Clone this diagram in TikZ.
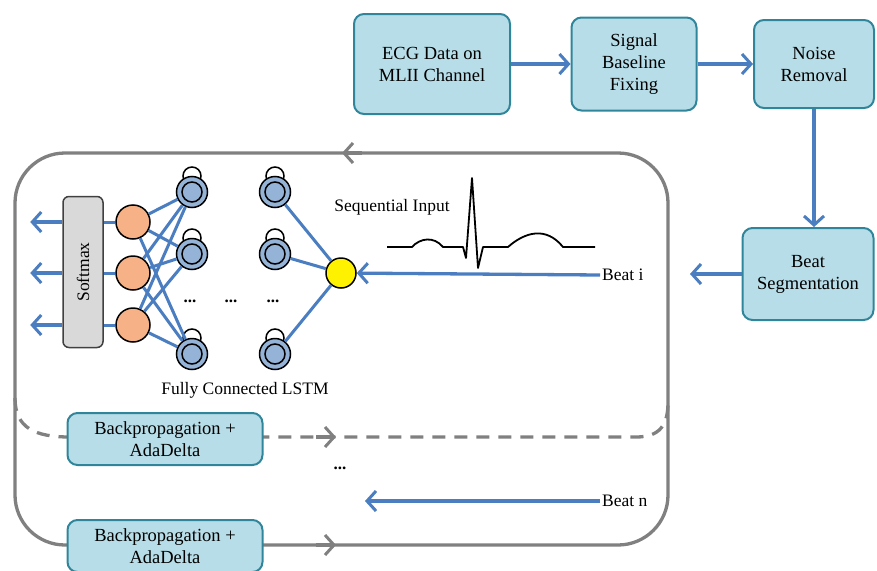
\documentclass[tikz,border=0pt]{standalone}
\usepackage{fontspec}
\setmainfont{Liberation Serif}
\usetikzlibrary{positioning,arrows.meta}

\definecolor{flowblue}{RGB}{74,126,193}
\definecolor{boxfill}{RGB}{183,222,232}
\definecolor{boxline}{RGB}{49,133,155}
\definecolor{loopgray}{RGB}{128,128,128}
\definecolor{unitorange}{RGB}{246,178,134}
\definecolor{unitblue}{RGB}{149,179,215}

\begin{document}
\begin{tikzpicture}[
    x=1pt, y=-1pt,
    stage/.style={
        rectangle,
        draw=boxline,
        line width=2pt,
        fill=boxfill,
        rounded corners=10pt,
        align=center,
        inner sep=0pt,
        font=\fontsize{18.5}{22}\selectfont
    },
    txt/.style={
        inner sep=2pt,
        font=\fontsize{17.5}{20}\selectfont
    },
    flow/.style={
        -{Straight Barb[length=9pt,width=20pt,line width=3pt]},
        line width=3.3pt,
        draw=flowblue
    },
    link/.style={
        line width=3pt,
        draw=flowblue
    },
    loopline/.style={
        line width=3.3pt,
        draw=loopgray
    },
    looptip/.style={
        loopline,
        -{Straight Barb[length=9pt,width=20pt,line width=3pt]}
    },
    outunit/.style={
        circle,
        draw=black,
        line width=1.5pt,
        fill=unitorange,
        minimum size=34pt,
        inner sep=0pt
    },
    lstm/.style={
        circle,
        draw=black,
        line width=1.5pt,
        fill=unitblue,
        minimum size=31pt,
        inner sep=0pt
    },
    dots/.style={
        inner sep=0pt,
        font=\fontsize{17}{17}\selectfont\bfseries
    }
]

\clip (0,0) rectangle (877,570);

% preprocessing chain
\node[stage, minimum width=156pt, minimum height=100pt] (ecg) at (432,64)
{ECG Data on\\MLII Channel};
\node[stage, minimum width=125pt, minimum height=93pt] (sig) at (634,64)
{Signal\\Baseline\\Fixing};
\node[stage, minimum width=120pt, minimum height=88pt] (noise) at (814,64)
{Noise\\Removal};
\node[stage, minimum width=131pt, minimum height=92pt] (seg) at (808,274)
{Beat\\Segmentation};
\coordinate (segend) at (690,274);

\draw[flow] (ecg) -- (sig);
\draw[flow] (sig) -- (noise);
\draw[flow] (noise.south) -- (noise.south |- seg.north);
\draw[flow] (seg.west) -- (segend);

% training loop
\draw[loopline, rounded corners=50pt] (15,153) rectangle (668,545);
\draw[loopline, dash pattern=on 13pt off 9pt]
    (15,398) .. controls (15,428) and (35,437) .. (70,437)
    -- (636,437) .. controls (660,437) and (668,425) .. (668,402);
\draw[looptip] (362,153) -- (342,153);
\draw[looptip] (316,437) -- (336,437);
\draw[looptip] (316,545) -- (336,545);

\node[stage, minimum width=195pt, minimum height=52pt] (bp1) at (165,439)
{Backpropagation +\\AdaDelta};
\node[stage, minimum width=195pt, minimum height=52pt] (bp2) at (165,546)
{Backpropagation +\\AdaDelta};

% network
\node[rectangle, draw=black!75, line width=1.5pt, fill=black!15,
      rounded corners=6pt, minimum width=40pt, minimum height=151pt]
      (sm) at (83,272) {};
\node[txt, rotate=90] (smtext) at (sm.center) {Softmax};

\node[outunit] (o1) at (133,222) {};
\node[outunit] (o2) at (133,273) {};
\node[outunit] (o3) at (133,325) {};

\foreach \c/\x in {a/192,b/275} {
    \foreach \r/\y in {1/192,2/254,3/354} {
        \draw[line width=1.5pt] (\x,\y-16) circle (9pt);
        \node[lstm] (l\c\r) at (\x,\y) {};
        \draw[line width=1.5pt] (l\c\r.center) circle (10pt);
    }
}

\node[circle, draw=black, line width=1.5pt, fill=yellow,
      minimum size=30pt, inner sep=0pt] (yel) at (341,273) {};

\foreach \i in {1,2,3} {
    \draw[flow] (sm.west |- o\i) -- ++(-32,0);
    \draw[link] (sm.east |- o\i) -- (o\i);
    \foreach \j in {1,2,3}
        \draw[link] (o\i) -- (la\j);
    \draw[link] (lb\i) -- (yel);
}

\node[dots] (da) at (190,301) {...};
\node[dots] (db) at (231,301) {...};
\node[dots] (dc) at (273,301) {...};
\node[txt] (fcl) at (245,390) {Fully Connected LSTM};

% input beats
\node[txt] (seqin) at (392,207) {Sequential Input};
\draw[line width=1.8pt, line join=round]
    (387,247) -- (412,247) .. controls (420,238) and (434,236) .. (443,247)
    -- (463,247) -- (466,258) -- (472,178) -- (478,268) -- (483,247)
    -- (508,247) .. controls (525,232) and (546,226) .. (563,247) -- (595,247);

\node[txt, anchor=west] (beati) at (600,275) {Beat i};
\draw[flow] (beati.west) -- (yel);

\node[dots] (dd) at (340,468) {...};
\node[txt, anchor=west] (beatn) at (600,501) {Beat n};
\coordinate (bnend) at (365,501);
\draw[flow] (beatn.west) -- (bnend);

\end{tikzpicture}
\end{document}
